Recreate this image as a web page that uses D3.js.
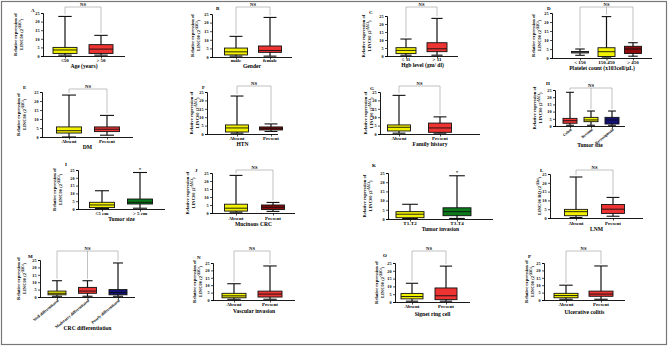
<!DOCTYPE html>
<html>
<head>
<meta charset="utf-8">
<script src="https://cdn.jsdelivr.net/npm/d3@7/dist/d3.min.js"></script>
<style>
  body { margin: 0; background: #fff; }
  svg { display: block; font-family: "Liberation Serif", "DejaVu Serif", serif; }
</style>
</head>
<body>
<svg id="chart" width="669" height="346"></svg>
<script>
// box stats are [min, q1, median, q3, max]
var ageCats = ['\u226450', '> 50']
var ageStats = [[0.5, 1.5, 3.5, 5, 23], [0.5, 1.5, 4, 6.6, 12]]

var genderCats = ['male', 'female']
var genderStats = [[0.5, 1.2, 3, 5.2, 12], [0.5, 2.7, 3.8, 6.4, 23]]

var hgbCats = ['\u2264 11', '> 11']
var hgbStats = [[0.5, 1.5, 3.5, 5.2, 10.6], [0.5, 2.7, 4.5, 8.3, 23.5]]

var plateletCats = ['< 150', '150-450', '> 450']
var plateletStats = [[1.5, 2.8, 3.2, 3.6, 5], [0.5, 0.8, 3.5, 5.7, 23], [1, 2.5, 5, 6.5, 8.5]]

var dmCats = ['Absent', 'Present']
var dmStats = [[0, 2.2, 3.5, 5.6, 23.3], [1, 3, 4.3, 5.6, 12]]

var htnCats = ['Absent', 'Present']
var htnStats = [[0.5, 1.2, 3.6, 5.4, 22.6], [1.5, 2.4, 3.4, 4.2, 6]]

var familyCats = ['Absent', 'Present']
var familyStats = [[0.5, 1.8, 4, 5.4, 23], [0.5, 1, 3.6, 6.5, 10.2]]

var siteCats = ['Colon', 'Rectum', 'Rectosigmoid']
var siteStats = [[0.5, 1.9, 3.7, 5.3, 23.4], [0.5, 3, 4.2, 6, 10.4], [0.5, 1.4, 4.2, 6, 10.4]]

var sizeCats = ['\u22645 cm', '> 5 cm']
var sizeStats = [[0.3, 0.9, 2.6, 4.3, 11.7], [0.5, 3.2, 4.3, 6.4, 23.4]]

var mucinousCats = ['Absent', 'Present']
var mucinousStats = [[0.5, 1.2, 3, 5.5, 23.5], [1, 2.2, 3.6, 5, 6.6]]

var invasionCats = ['T1-T2', 'T3-T4']
var invasionStats = [[0.3, 0.7, 2.6, 4, 8], [0.3, 1.8, 4, 6.1, 23.5]]

var lnmCats = ['Absent', 'Present']
var lnmStats = [[0.3, 1.3, 3.6, 4.9, 23.3], [1, 2.6, 5, 7.7, 11.7]]

var diffCats = ['Well differentiated', 'Moderatey differentiated', 'Poorly differentiated']
var diffStats = [[0.5, 1.5, 2.5, 4, 11], [0.5, 2.5, 4, 6.5, 11], [0.5, 1.5, 3, 5, 23]]

var vascularCats = ['Absent', 'Present']
var vascularStats = [[0.5, 1.5, 2.8, 4.5, 11], [0.5, 2, 4, 6, 23]]

var signetCats = ['Absent', 'Present']
var signetStats = [[0.5, 2, 3.5, 5.5, 12], [0.5, 1.5, 4, 9, 23]]

var ulcerCats = ['Absent', 'Present']
var ulcerStats = [[0.5, 1.5, 3, 4.5, 10], [0.5, 2.5, 4, 6, 23]]

var yTicks = [0, 5, 10, 15, 20, 25]

var YEL = '#f2f200'
var RED = '#ee3333'
var DRED = '#8e0c0c'
var GRN = '#0b7a1a'
var NAVY = '#12127a'
var WHT = '#ffffff'

var panels = [
  {id: 'A', cats: ageCats, stats: ageStats, colors: [YEL, RED], title: 'Age (years)', sig: 'NS'},
  {id: 'B', cats: genderCats, stats: genderStats, colors: [YEL, RED], title: 'Gender', sig: 'NS'},
  {id: 'C', cats: hgbCats, stats: hgbStats, colors: [YEL, RED], title: 'Hgb level (gm/ dl)', sig: 'NS'},
  {id: 'D', cats: plateletCats, stats: plateletStats, colors: [WHT, YEL, DRED], title: 'Platelet count (x103cell/\u03bcL)', sig: 'NS'},
  {id: 'E', cats: dmCats, stats: dmStats, colors: [YEL, RED], title: 'DM', sig: 'NS'},
  {id: 'F', cats: htnCats, stats: htnStats, colors: [YEL, DRED], title: 'HTN', sig: 'NS'},
  {id: 'G', cats: familyCats, stats: familyStats, colors: [YEL, RED], title: 'Family history', sig: 'NS'},
  {id: 'H', cats: siteCats, stats: siteStats, colors: [RED, YEL, NAVY], title: 'Tumor site', sig: 'NS', rotate: true},
  {id: 'I', cats: sizeCats, stats: sizeStats, colors: [YEL, GRN], title: 'Tumor size', sig: '*'},
  {id: 'J', cats: mucinousCats, stats: mucinousStats, colors: [YEL, DRED], title: 'Mucinous CRC', sig: 'NS'},
  {id: 'K', cats: invasionCats, stats: invasionStats, colors: [YEL, GRN], title: 'Tumor invasion', sig: '*'},
  {id: 'L', cats: lnmCats, stats: lnmStats, colors: [YEL, RED], title: 'LNM', sig: 'NS', shortLabel: true},
  {id: 'M', cats: diffCats, stats: diffStats, colors: [YEL, RED, NAVY], title: 'CRC differentiation', sig: 'NS', rotate: true},
  {id: 'N', cats: vascularCats, stats: vascularStats, colors: [YEL, RED], title: 'Vascular invasion', sig: 'NS'},
  {id: 'O', cats: signetCats, stats: signetStats, colors: [YEL, RED], title: 'Signet ring cell', sig: 'NS'},
  {id: 'P', cats: ulcerCats, stats: ulcerStats, colors: [YEL, RED], title: 'Ulcerative colitis', sig: 'NS'}
]

// where each panel sits on the page (pixels)
// ax: y axis x, y0/yTop: pixel of 0 and 25, xEnd: end of x axis, c0/c1: first/last box centre, bw: box width
// lx: y title x, letter: [x, y], catY/titleY: baseline of labels, brY: bracket y
var layout = {
  A: {ax: 43, y0: 56, yTop: 13, xEnd: 125, c0: 65, c1: 101, bw: 24, lx: 17, letter: [31, 12], catY: 62, titleY: 68, brY: 7},
  B: {ax: 212, y0: 57, yTop: 14, xEnd: 292, c0: 236, c1: 270, bw: 23, lx: 194, letter: [216, 10], catY: 62, titleY: 68, brY: 7},
  C: {ax: 387, y0: 56, yTop: 16, xEnd: 458, c0: 406, c1: 437, bw: 20, lx: 365, letter: [369, 14], catY: 61, titleY: 67, brY: 7},
  D: {ax: 552, y0: 58, yTop: 13, xEnd: 652, c0: 580, c1: 633, bw: 17, lx: 535, letter: [547, 10], catY: 64, titleY: 70, brY: 7},
  E: {ax: 42, y0: 137, yTop: 92, xEnd: 133, c0: 69, c1: 107, bw: 25, lx: 20, letter: [23, 89], catY: 143, titleY: 149, brY: 89},
  F: {ax: 207, y0: 134, yTop: 92, xEnd: 278, c0: 237, c1: 271, bw: 23, lx: 193, letter: [202, 89], catY: 140, titleY: 146, brY: 86},
  G: {ax: 380, y0: 134, yTop: 92, xEnd: 480, c0: 399, c1: 440, bw: 23, lx: 367, letter: [370, 90], catY: 140, titleY: 146, brY: 86},
  H: {ax: 555, y0: 126, yTop: 90, xEnd: 625, c0: 570, c1: 612, bw: 14, lx: 536, letter: [546, 85], catY: 130, titleY: 147, brY: 88},
  I: {ax: 78, y0: 209, yTop: 170, xEnd: 165, c0: 102, c1: 140, bw: 25, lx: 56, letter: [65, 166], catY: 215, titleY: 221, brY: null},
  J: {ax: 212, y0: 213, yTop: 173, xEnd: 295, c0: 236, c1: 273, bw: 23, lx: 189, letter: [195, 172], catY: 220, titleY: 226, brY: 170},
  K: {ax: 388, y0: 219, yTop: 173, xEnd: 493, c0: 410, c1: 457, bw: 28, lx: 366, letter: [372, 167], catY: 225, titleY: 231, brY: null},
  L: {ax: 550, y0: 218, yTop: 174, xEnd: 643, c0: 576, c1: 613, bw: 23, lx: 537, letter: [540, 172], catY: 225, titleY: 231, brY: 170},
  M: {ax: 40, y0: 297, yTop: 260, xEnd: 135, c0: 57, c1: 118, bw: 18, lx: 20, letter: [28, 258], catY: 301, titleY: 330, brY: 251},
  N: {ax: 213, y0: 300, yTop: 263, xEnd: 295, c0: 234, c1: 270, bw: 24, lx: 196, letter: [197, 259], catY: 306, titleY: 313, brY: 251},
  O: {ax: 395, y0: 302, yTop: 263, xEnd: 470, c0: 412, c1: 446, bw: 22, lx: 378, letter: [383, 257], catY: 308, titleY: 316, brY: 251},
  P: {ax: 544, y0: 300, yTop: 263, xEnd: 625, c0: 566, c1: 601, bw: 24, lx: 528, letter: [528, 258], catY: 306, titleY: 314, brY: 251}
}

var svg = d3.select('#chart')

// thin grey frame around the figure
svg.append('rect')
  .attr('x', 1.5).attr('y', 1.5)
  .attr('width', 665).attr('height', 343)
  .attr('fill', 'none')
  .attr('stroke', '#777')
  .attr('stroke-width', 1.2)

panels.forEach(function(p) {
  drawPanel(p, layout[p.id])
})

function drawPanel(p, L) {
  var g = svg.append('g').attr('class', 'panel panel-' + p.id)

  var y = d3.scaleLinear().domain([0, 25]).range([L.y0, L.yTop])
  var x = d3.scalePoint().domain(p.cats).range([L.c0, L.c1])

  // y axis
  var yAxis = g.append('g')
    .attr('transform', 'translate(' + L.ax + ',0)')
    .call(d3.axisLeft(y).tickValues(yTicks).tickSize(2).tickPadding(1.5))
  yAxis.select('.domain').attr('stroke-width', 0.9)
  yAxis.selectAll('.tick line').attr('stroke-width', 0.7)
  yAxis.selectAll('text')
    .attr('font-size', 4.2)
    .attr('font-weight', 'bold')
    .attr('font-family', '"Liberation Serif", serif')

  // x axis: a plain base line with category ticks
  g.append('line')
    .attr('x1', L.ax).attr('x2', L.xEnd)
    .attr('y1', L.y0 + 0.5).attr('y2', L.y0 + 0.5)
    .attr('stroke', '#000').attr('stroke-width', 0.9)

  var xAxis = g.append('g')
    .attr('transform', 'translate(0,' + (L.y0 + 0.5) + ')')
    .call(d3.axisBottom(x).tickSize(2).tickSizeOuter(0).tickFormat(''))
  xAxis.select('.domain').remove()
  xAxis.selectAll('.tick line').attr('stroke-width', 0.7)

  // category labels
  var labels = g.selectAll('.cat')
    .data(p.cats)
    .enter()
    .append('text')
    .attr('class', 'cat')
    .attr('font-size', p.rotate ? 4 : 5)
    .attr('font-weight', 'bold')
    .text(function(d) { return d })

  if (p.rotate) {
    labels
      .attr('text-anchor', 'end')
      .attr('transform', function(d) {
        return 'translate(' + (x(d) + 2) + ',' + L.catY + ')rotate(-40)'
      })
  } else {
    labels
      .attr('text-anchor', 'middle')
      .attr('x', function(d) { return x(d) })
      .attr('y', L.catY)
  }

  // axis title
  g.append('text')
    .attr('x', (L.ax + L.xEnd) / 2)
    .attr('y', L.titleY)
    .attr('text-anchor', 'middle')
    .attr('font-size', 5.6)
    .attr('font-weight', 'bold')
    .text(p.title)

  // y title, rotated
  var yt = g.append('text')
    .attr('transform', 'translate(' + L.lx + ',' + ((L.y0 + L.yTop) / 2) + ')rotate(-90)')
    .attr('text-anchor', 'middle')
    .attr('font-size', 4.6)
    .attr('font-weight', 'bold')
  if (p.shortLabel) {
    yt.append('tspan').attr('x', 0).attr('dy', 4).text('LINC00 RQ (2')
    yt.append('tspan').attr('dy', -2).attr('font-size', 3.2).text('-\u0394\u0394ct')
    yt.append('tspan').attr('dy', 2).text(')')
  } else {
    yt.append('tspan').attr('x', 0).attr('dy', 0).text('Relative expression of')
    yt.append('tspan').attr('x', 0).attr('dy', 5.5).text('LINC00 (2')
    yt.append('tspan').attr('dy', -2).attr('font-size', 3.2).text('-\u0394\u0394Ct')
    yt.append('tspan').attr('dy', 2).text(')')
  }

  // panel letter
  g.append('text')
    .attr('x', L.letter[0]).attr('y', L.letter[1])
    .attr('font-size', 5)
    .attr('font-weight', 'bold')
    .text(p.id)

  // boxes
  var boxes = g.selectAll('.box')
    .data(p.stats)
    .enter()
    .append('g')
    .attr('class', 'box')
    .attr('transform', function(d, i) { return 'translate(' + x(p.cats[i]) + ',0)' })

  boxes.append('line')
    .attr('y1', function(d) { return y(d[0]) })
    .attr('y2', function(d) { return y(d[4]) })
    .attr('stroke', '#111').attr('stroke-width', 1.2)

  boxes.selectAll('.cap')
    .data(function(d) { return [d[0], d[4]] })
    .enter()
    .append('line')
    .attr('class', 'cap')
    .attr('x1', -L.bw * 0.28).attr('x2', L.bw * 0.28)
    .attr('y1', function(v) { return y(v) })
    .attr('y2', function(v) { return y(v) })
    .attr('stroke', '#111').attr('stroke-width', 1.1)

  boxes.append('rect')
    .attr('x', -L.bw / 2)
    .attr('width', L.bw)
    .attr('y', function(d) { return y(d[3]) })
    .attr('height', function(d) { return y(d[1]) - y(d[3]) })
    .attr('fill', function(d, i) { return p.colors[i] })
    .attr('stroke', '#111').attr('stroke-width', 0.9)

  boxes.append('line')
    .attr('x1', -L.bw / 2).attr('x2', L.bw / 2)
    .attr('y1', function(d) { return y(d[2]) })
    .attr('y2', function(d) { return y(d[2]) })
    .attr('stroke', '#111').attr('stroke-width', 0.9)

  // significance mark
  if (p.sig === '*') {
    var last = p.stats.length - 1
    g.append('text')
      .attr('x', x(p.cats[last]))
      .attr('y', y(p.stats[last][4]) - 1.5)
      .attr('text-anchor', 'middle')
      .attr('font-size', 5)
      .attr('font-weight', 'bold')
      .text('*')
  } else if (L.brY != null) {
    var tops = p.stats.map(function(d) { return y(d[4]) - 2 })
    var first = x(p.cats[0])
    var lastX = x(p.cats[p.cats.length - 1])
    g.append('path')
      .attr('d', 'M' + first + ',' + tops[0] + 'V' + L.brY + 'H' + lastX + 'V' + tops[tops.length - 1])
      .attr('fill', 'none')
      .attr('stroke', '#999').attr('stroke-width', 0.6)
    if (p.cats.length === 3) {
      g.append('line')
        .attr('x1', x(p.cats[1])).attr('x2', x(p.cats[1]))
        .attr('y1', L.brY).attr('y2', tops[1])
        .attr('stroke', '#999').attr('stroke-width', 0.6)
    }
    g.append('text')
      .attr('x', (first + lastX) / 2)
      .attr('y', L.brY - 1.5)
      .attr('text-anchor', 'middle')
      .attr('font-size', 4.6)
      .attr('font-weight', 'bold')
      .text(p.sig)
  }
}
</script>
</body>
</html>
